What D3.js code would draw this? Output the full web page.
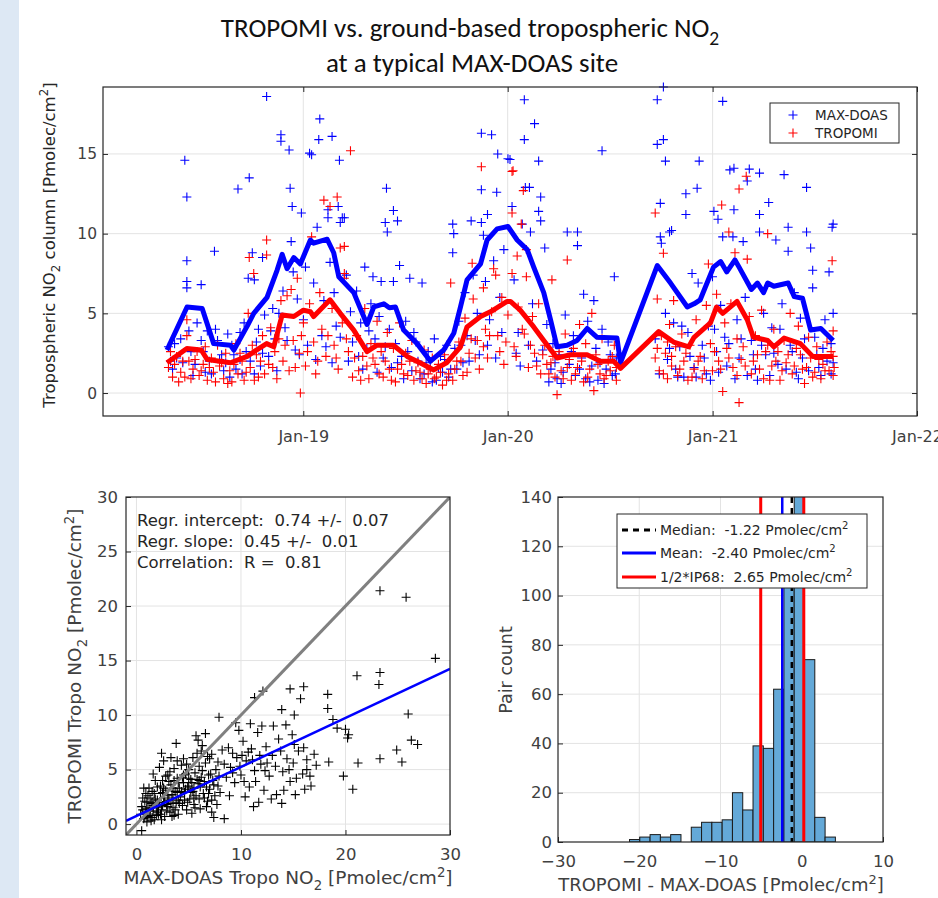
<!DOCTYPE html>
<html>
<head>
<meta charset="utf-8">
<script src="https://cdn.jsdelivr.net/npm/d3@7"></script>
<style>
  body { margin: 0; background: #fff; }
  svg { display: block; font-family: "DejaVu Sans", Verdana, sans-serif; }
</style>
</head>
<body>
<svg width="938" height="898"></svg>
<script>
// ---- time series (decimal year, Pmolec/cm2) ----
const maxdoasPoints = [
  [2018.34,2.9],[2018.36,1.5],[2018.38,2.2],[2018.40,3.4],[2018.42,14.6],[2018.43,12.3],[2018.43,8.3],[2018.43,7.0],[2018.43,6.6],[2018.45,2.6],[2018.47,1.8],[2018.50,6.8],[2018.50,3.3],[2018.52,1.3],[2018.54,2.0],[2018.565,8.9],[2018.57,4.0],[2018.59,2.1],[2018.61,1.4],[2018.63,3.7],[2018.64,1.0],[2018.66,2.4],[2018.68,12.8],[2018.69,3.8],[2018.70,1.2],[2018.72,2.6],[2018.735,13.5],[2018.73,7.2],[2018.75,8.8],[2018.76,7.1],[2018.77,3.2],[2018.79,1.7],[2018.80,8.5],[2018.81,4.9],[2018.82,18.6],[2018.83,2.3],[2018.85,5.3],[2018.86,3.4],
  [2018.89,16.2],[2018.89,15.8],[2018.90,6.4],[2018.91,4.1],[2018.93,15.25],[2018.935,12.85],[2018.94,9.5],[2018.945,11.7],[2018.95,7.6],[2018.96,2.7],[2018.97,5.9],[2018.99,11.3],[2019.00,4.6],[2019.01,7.9],[2019.03,15.05],[2019.04,14.95],[2019.05,6.9],[2019.067,10.4],[2019.075,15.9],[2019.08,17.2],[2019.09,3.6],[2019.10,5.8],[2019.12,11.5],[2019.12,11.0],[2019.13,8.2],[2019.14,16.1],[2019.15,6.3],[2019.16,4.2],[2019.17,11.7],[2019.176,14.6],[2019.18,10.7],[2019.19,11.0],[2019.20,11.0],[2019.21,7.4],[2019.23,5.1],[2019.24,3.2],
  [2019.26,6.4],[2019.28,4.4],[2019.30,7.9],[2019.31,2.8],[2019.33,5.6],[2019.34,7.3],[2019.35,3.4],[2019.37,4.8],[2019.38,7.0],[2019.39,2.2],[2019.40,10.7],[2019.406,12.85],[2019.41,10.1],[2019.42,4.0],[2019.43,1.6],[2019.44,11.45],[2019.44,7.0],[2019.45,3.1],[2019.46,10.8],[2019.47,8.0],[2019.48,2.3],[2019.50,4.5],[2019.52,7.2],[2019.53,1.4],[2019.55,3.2],[2019.56,2.0],[2019.58,6.9],[2019.59,1.2],[2019.61,2.6],[2019.62,1.6],[2019.64,3.4],[2019.65,0.8],[2019.67,2.3],[2019.68,1.3],[2019.70,3.0],[2019.71,1.0],
  [2019.73,10.6],[2019.735,10.0],[2019.73,8.8],[2019.74,2.8],[2019.76,4.5],[2019.78,1.9],[2019.79,6.3],[2019.80,3.6],[2019.82,10.8],[2019.83,7.4],[2019.85,5.0],[2019.87,16.3],[2019.87,12.75],[2019.87,10.7],[2019.88,9.9],[2019.89,7.0],[2019.90,11.2],[2019.91,4.6],[2019.92,16.2],[2019.93,8.3],[2019.945,12.6],[2019.95,15.0],[2019.96,6.0],[2019.98,9.0],[2020.00,14.7],[2020.01,14.65],[2020.02,11.7],[2020.03,7.1],[2020.05,3.8],[2020.07,10.6],[2020.08,18.4],[2020.08,15.9],[2020.085,12.9],[2020.105,12.9],[2020.11,10.1],[2020.12,5.6],[2020.13,16.9],[2020.15,14.55],[2020.15,11.4],[2020.16,12.3],[2020.16,10.8],[2020.17,2.7],[2020.18,9.1],[2020.19,4.3],
  [2020.21,1.5],[2020.22,3.1],[2020.24,0.9],[2020.25,2.4],[2020.27,1.3],[2020.28,4.9],[2020.29,10.1],[2020.30,1.8],[2020.32,3.6],[2020.33,1.1],[2020.34,10.1],[2020.34,9.25],[2020.36,2.2],[2020.37,6.2],[2020.38,0.9],[2020.39,4.5],[2020.41,1.7],[2020.42,5.8],[2020.43,2.8],[2020.44,0.8],[2020.46,15.2],[2020.46,4.0],[2020.48,1.5],[2020.49,3.2],[2020.51,1.1],[2020.52,7.3],[2020.53,2.2],
  [2020.72,3.4],[2020.73,18.4],[2020.73,15.6],[2020.745,11.9],[2020.745,9.8],[2020.75,9.4],[2020.76,19.2],[2020.76,15.9],[2020.77,14.55],[2020.77,5.0],[2020.78,2.1],[2020.79,10.1],[2020.80,10.2],[2020.81,4.4],[2020.82,1.5],[2020.84,2.9],[2020.86,1.0],[2020.87,12.5],[2020.87,11.2],[2020.88,3.8],[2020.90,7.5],[2020.91,1.6],[2020.925,12.85],[2020.93,6.9],[2020.935,14.55],[2020.95,3.0],[2020.97,1.2],[2020.98,4.2],[2021.00,7.3],[2021.007,11.4],[2021.02,2.6],[2021.027,10.9],[2021.04,5.5],[2021.05,18.3],[2021.05,9.8],[2021.06,3.5],[2021.07,1.7],[2021.085,14.0],[2021.10,9.8],[2021.105,14.1],[2021.105,11.5],[2021.12,4.6],[2021.13,2.2],[2021.15,9.5],[2021.16,6.0],[2021.17,13.3],[2021.18,14.05],[2021.19,3.3],[2021.21,1.5],[2021.23,13.8],[2021.23,11.2],[2021.23,10.1],[2021.25,5.0],[2021.26,2.4],[2021.275,11.95],[2021.29,4.1],[2021.31,9.6],[2021.32,1.8],[2021.34,5.6],[2021.35,13.7],[2021.37,10.4],[2021.37,8.9],[2021.38,3.0],[2021.40,6.3],[2021.41,1.3],[2021.43,4.7],[2021.44,2.2],[2021.46,12.9],[2021.46,10.1],[2021.48,9.1],[2021.49,7.7],[2021.49,6.6],[2021.50,3.5],[2021.52,1.6],[2021.54,2.8],[2021.55,4.6],[2021.57,7.6],[2021.58,3.1],[2021.585,10.4],[2021.59,10.6],[2021.59,5.0],[2021.59,1.9],
  [2018.35,2.0],[2018.37,3.1],[2018.41,1.9],[2018.44,3.9],[2018.46,1.1],[2018.48,4.4],[2018.51,2.6],[2018.53,3.9],[2018.55,1.2],[2018.58,3.3],[2018.60,2.4],[2018.62,1.9],[2018.65,3.0],[2018.67,1.5],[2018.69,2.1],[2018.71,4.4],[2018.74,2.0],[2018.76,1.2],[2018.78,4.0],[2018.80,2.5],[2018.84,3.9],[2018.87,1.4],[2018.88,5.0],[2018.92,3.3],[2018.98,2.4],[2019.02,3.0],[2019.06,2.1],[2019.11,2.9],[2019.14,1.9],[2019.18,3.5],[2019.22,2.0],
  [2019.27,2.3],[2019.29,1.5],[2019.32,3.9],[2019.36,1.3],[2019.40,2.9],[2019.46,1.9],[2019.49,0.9],[2019.51,2.6],[2019.54,3.8],[2019.57,0.9],[2019.60,1.9],[2019.63,0.7],[2019.66,1.6],[2019.69,2.1],[2019.72,1.5],
  [2019.75,1.5],[2019.77,3.0],[2019.81,2.0],[2019.84,3.3],[2019.86,2.4],[2019.90,3.0],[2019.94,2.2],[2019.97,3.8],[2020.04,2.5],[2020.06,1.7],[2020.10,3.0],[2020.14,2.0],
  [2020.20,0.7],[2020.23,1.9],[2020.26,0.6],[2020.31,2.6],[2020.35,1.5],[2020.40,0.7],[2020.45,1.9],[2020.47,0.6],[2020.50,2.4],[2020.525,1.2],
  [2020.74,1.2],[2020.79,2.8],[2020.83,1.0],[2020.85,4.2],[2020.89,2.3],[2020.92,1.0],[2020.96,2.2],[2020.99,0.8],[2021.01,4.0],[2021.03,1.3],[2021.08,3.1],[2021.11,0.9],[2021.14,3.4],[2021.17,1.1],[2021.20,2.4],[2021.22,0.8],[2021.24,3.0],[2021.28,1.1],[2021.30,2.5],[2021.33,4.0],[2021.36,1.5],[2021.39,2.6],[2021.42,0.9],[2021.45,3.4],[2021.47,1.4],[2021.51,2.4],[2021.53,1.1],[2021.56,2.0],[2021.58,1.2]
];

const tropomiPoints = [
  [2018.34,1.6],[2018.36,1.0],[2018.38,2.3],[2018.40,1.3],[2018.43,4.6],[2018.43,3.6],[2018.44,2.0],[2018.45,0.9],[2018.46,1.5],[2018.48,2.6],[2018.49,1.1],[2018.51,1.8],[2018.53,0.8],[2018.55,2.2],[2018.56,1.3],[2018.58,3.0],[2018.59,1.7],[2018.61,0.9],[2018.62,2.5],[2018.64,1.4],[2018.65,0.7],[2018.67,3.1],[2018.68,1.2],[2018.70,2.0],[2018.71,0.8],[2018.73,5.0],[2018.735,8.5],[2018.74,1.6],[2018.757,7.5],[2018.77,2.4],[2018.78,1.0],[2018.80,3.6],[2018.82,9.6],[2018.82,8.66],[2018.83,1.8],[2018.84,4.1],[2018.86,2.6],[2018.87,0.9],[2018.88,3.4],
  [2018.89,5.8],[2018.90,2.0],[2018.92,6.1],[2018.93,1.4],[2018.94,6.5],[2018.95,3.3],[2018.97,7.2],[2018.98,2.5],[2018.985,0.0],[2019.00,4.4],[2019.01,1.7],[2019.03,5.6],[2019.04,9.8],[2019.05,3.2],[2019.06,1.2],[2019.08,6.3],[2019.09,4.0],[2019.10,12.1],[2019.11,2.3],[2019.13,11.7],[2019.14,5.3],[2019.15,3.0],[2019.165,12.3],[2019.17,1.5],[2019.18,9.1],[2019.19,4.4],[2019.20,9.2],[2019.20,7.5],[2019.20,7.2],[2019.22,2.6],[2019.23,15.2],[2019.24,1.0],
  [2019.26,3.6],[2019.27,1.4],[2019.29,2.3],[2019.30,5.3],[2019.32,0.9],[2019.33,3.1],[2019.35,1.8],[2019.36,4.5],[2019.38,2.6],[2019.39,1.0],[2019.41,3.8],[2019.42,1.5],[2019.44,2.8],[2019.45,0.7],[2019.47,4.4],[2019.48,1.8],[2019.50,2.5],[2019.51,1.1],[2019.53,3.3],[2019.54,0.8],[2019.56,1.9],[2019.57,1.3],[2019.59,2.7],[2019.60,0.6],[2019.62,1.5],[2019.63,2.2],[2019.65,1.0],[2019.66,1.8],[2019.68,0.5],[2019.69,2.4],[2019.71,1.2],[2019.72,6.9],[2019.73,0.8],
  [2019.75,2.0],[2019.76,3.2],[2019.78,1.1],[2019.79,4.7],[2019.81,2.5],[2019.825,8.14],[2019.83,5.9],[2019.85,3.3],[2019.86,1.5],[2019.87,14.2],[2019.88,6.6],[2019.89,4.0],[2019.90,2.2],[2019.92,5.1],[2019.93,7.8],[2019.94,7.4],[2019.95,3.6],[2019.97,6.0],[2019.98,1.8],[2020.00,4.9],[2020.02,13.9],[2020.025,13.95],[2020.02,11.3],[2020.02,7.5],[2020.03,2.9],[2020.045,8.6],[2020.05,5.4],[2020.065,10.6],[2020.075,12.7],[2020.08,3.7],[2020.09,9.0],[2020.09,7.3],[2020.10,1.6],[2020.12,4.8],[2020.13,2.5],[2020.15,5.6],[2020.16,1.2],[2020.18,3.0],[2020.19,1.8],
  [2020.215,7.1],[2020.22,2.3],[2020.23,1.0],[2020.24,-0.1],[2020.25,2.6],[2020.26,1.4],[2020.28,3.7],[2020.29,8.35],[2020.29,1.6],[2020.31,0.8],[2020.32,2.8],[2020.33,1.2],[2020.35,4.3],[2020.36,2.0],[2020.37,0.7],[2020.38,3.1],[2020.40,1.5],[2020.41,5.0],[2020.42,0.15],[2020.43,2.4],[2020.45,1.2],[2020.46,3.4],[2020.47,0.9],[2020.49,2.0],[2020.50,1.4],[2020.52,3.0],[2020.53,0.8],
  [2020.72,11.3],[2020.72,2.2],[2020.73,5.9],[2020.74,1.4],[2020.75,3.6],[2020.76,8.77],[2020.77,2.5],[2020.78,0.9],[2020.79,4.3],[2020.80,1.7],[2020.81,5.8],[2020.82,2.9],[2020.83,1.1],[2020.85,3.7],[2020.86,2.0],[2020.88,0.8],[2020.89,3.0],[2020.91,1.5],[2020.92,4.6],[2020.94,2.3],[2020.95,0.9],[2020.97,5.5],[2020.98,8.1],[2020.99,3.1],[2021.00,1.4],[2021.02,6.2],[2021.03,2.0],[2021.045,11.8],[2021.05,0.1],[2021.06,4.4],[2021.07,2.8],[2021.08,10.1],[2021.09,5.6],[2021.10,1.6],[2021.11,8.8],[2021.12,3.4],[2021.13,12.8],[2021.13,-0.6],[2021.14,2.1],[2021.165,13.6],[2021.17,8.4],[2021.18,4.8],[2021.19,1.2],[2021.21,3.6],[2021.22,2.4],[2021.24,5.2],[2021.25,0.9],[2021.27,10.0],[2021.27,3.0],[2021.29,1.7],[2021.30,4.0],[2021.32,2.6],[2021.33,0.8],[2021.35,3.3],[2021.36,1.9],[2021.38,5.0],[2021.39,1.2],[2021.41,2.8],[2021.42,4.2],[2021.44,1.5],[2021.45,0.6],[2021.47,3.5],[2021.48,2.2],[2021.50,1.3],[2021.51,2.9],[2021.53,0.9],[2021.54,1.8],[2021.56,3.2],[2021.57,1.4],[2021.585,8.3],[2021.59,2.3],[2021.59,1.1],[2021.59,3.9],
  [2018.35,2.6],[2018.37,1.8],[2018.39,0.7],[2018.41,2.0],[2018.42,1.0],[2018.47,2.1],[2018.50,1.4],[2018.52,2.9],[2018.54,1.6],[2018.57,0.7],[2018.60,1.9],[2018.63,0.6],[2018.66,1.8],[2018.69,2.5],[2018.72,1.3],[2018.75,3.0],[2018.76,0.8],[2018.79,2.0],[2018.81,1.2],[2018.85,1.6],[2018.91,3.0],[2018.96,1.6],[2018.99,3.6],[2019.02,2.6],[2019.07,2.0],[2019.12,3.6],[2019.16,2.2],[2019.21,3.4],
  [2019.25,2.2],[2019.28,0.8],[2019.31,1.7],[2019.34,2.2],[2019.37,1.2],[2019.40,2.0],[2019.43,0.8],[2019.46,1.5],[2019.49,1.2],[2019.52,2.0],[2019.55,1.4],[2019.58,0.9],[2019.61,1.2],[2019.64,0.9],[2019.67,1.3],[2019.70,0.8],[2019.74,1.5],
  [2019.77,2.0],[2019.80,1.3],[2019.82,3.4],[2019.84,2.2],[2019.88,2.9],[2019.91,3.6],[2019.96,2.6],[2019.99,3.2],[2020.04,2.3],[2020.07,4.0],[2020.11,3.0],[2020.14,1.7],[2020.17,2.4],
  [2020.20,1.2],[2020.21,1.9],[2020.27,0.9],[2020.30,2.1],[2020.34,1.6],[2020.39,1.0],[2020.44,1.8],[2020.48,1.1],[2020.51,2.3],[2020.53,1.6],
  [2020.73,2.8],[2020.76,1.2],[2020.78,3.2],[2020.80,2.3],[2020.84,1.5],[2020.87,2.5],[2020.90,1.0],[2020.93,2.0],[2020.96,1.4],[2021.01,2.6],[2021.04,1.5],[2021.08,2.2],[2021.12,1.1],[2021.15,2.9],[2021.16,1.7],[2021.20,2.0],[2021.23,1.5],[2021.26,2.6],[2021.28,0.8],[2021.31,2.0],[2021.34,1.4],[2021.37,2.4],[2021.40,1.7],[2021.43,2.4],[2021.46,1.6],[2021.49,1.0],[2021.52,2.1],[2021.55,1.4],[2021.58,2.6],[2021.595,1.6]
];

// running means
const maxdoasMean = [
  [2018.333,2.7],[2018.431,5.4],[2018.505,5.3],[2018.561,3.1],[2018.643,3.0],[2018.66,2.7],[2018.725,4.2],[2018.757,5.0],[2018.822,6.0],[2018.871,7.7],[2018.896,8.7],[2018.92,7.8],[2018.953,8.5],[2018.985,8.1],[2019.034,9.6],[2019.05,9.4],[2019.116,9.65],[2019.148,8.8],[2019.173,7.3],[2019.246,6.3],[2019.311,4.3],[2019.344,5.4],[2019.393,5.6],[2019.42,5.35],[2019.45,5.4],[2019.49,3.95],[2019.556,3.1],[2019.621,2.0],[2019.686,2.7],[2019.735,3.75],[2019.768,5.4],[2019.80,7.1],[2019.866,8.1],[2019.898,9.6],[2019.947,10.3],[2020.0,10.45],[2020.045,9.6],[2020.094,9.0],[2020.126,7.9],[2020.175,6.3],[2020.208,4.6],[2020.24,2.9],[2020.289,3.0],[2020.338,3.3],[2020.387,4.05],[2020.436,3.5],[2020.533,3.45],[2020.55,1.9],[2020.73,8.0],[2020.795,6.9],[2020.877,5.4],[2020.91,5.6],[2020.94,5.85],[2021.005,7.9],[2021.04,8.25],[2021.07,7.6],[2021.11,8.35],[2021.13,7.9],[2021.19,6.5],[2021.22,6.9],[2021.25,6.3],[2021.27,6.9],[2021.30,6.7],[2021.37,6.9],[2021.40,6.05],[2021.44,5.95],[2021.48,3.95],[2021.53,4.05],[2021.59,3.3]
];
const tropomiMean = [
  [2018.333,1.9],[2018.43,2.8],[2018.50,2.7],[2018.53,2.1],[2018.643,1.9],[2018.725,2.3],[2018.77,2.7],[2018.82,3.1],[2018.855,2.9],[2018.896,4.9],[2018.953,4.8],[2019.0,5.2],[2019.034,5.1],[2019.05,4.8],[2019.13,5.85],[2019.18,5.0],[2019.246,3.95],[2019.311,2.6],[2019.36,3.0],[2019.44,3.0],[2019.507,2.3],[2019.57,1.9],[2019.637,1.45],[2019.70,1.9],[2019.768,2.9],[2019.80,4.15],[2019.866,4.8],[2019.914,5.1],[2019.996,5.75],[2020.012,5.75],[2020.06,5.2],[2020.126,4.15],[2020.175,3.3],[2020.24,2.2],[2020.306,2.4],[2020.387,2.4],[2020.452,2.0],[2020.517,2.0],[2020.55,1.55],[2020.737,3.85],[2020.81,3.2],[2020.884,2.9],[2020.91,3.5],[2020.99,4.4],[2021.02,5.4],[2021.05,5.0],[2021.12,5.75],[2021.17,4.6],[2021.20,3.5],[2021.27,3.3],[2021.30,2.9],[2021.35,3.45],[2021.43,3.1],[2021.49,2.3],[2021.53,2.3],[2021.59,2.3]
];

const yearTicks = [2019, 2020, 2021, 2022];
const valueTicks = [0, 5, 10, 15];

// ---- scatter: MAX-DOAS (x) vs TROPOMI (y) ----
const pairs = [
  [23.3,21.4],[25.8,20.8],[28.6,15.2],[21.1,13.6],[23.3,13.9],[23.2,12.8],[26.0,10.1],[26.3,7.7],[26.9,7.3],[24.9,6.8],[25.4,5.7],[23.3,6.0],[21.2,5.6],[19.8,4.4],[20.7,3.2],[18.3,11.9],[18.3,10.6],[18.8,9.6],[19.2,8.8],[20.0,8.7],[20.3,8.2],[20.2,7.9],[18.4,5.7],[17.0,6.4],[16.3,5.0],[16.1,3.2],[15.2,2.7],[13.9,1.9],[11.2,1.6],[13.9,10.5],[14.7,12.4],[16.0,12.6],[15.1,10.0],[15.7,11.5],[11.3,11.6],[12.1,12.2],[7.9,9.8],[9.5,9.3],[10.9,9.2],[13.1,9.0],[14.3,9.1],[15.1,7.3],[3.8,7.4],[3.3,6.1],[2.4,6.5],[5.7,8.1],[6.6,8.3],[8.4,0.5],[0.5,-0.6],
  [8.2,6.8],[8.8,7.0],[9.0,5.2],[9.4,3.8],[9.6,6.1],[10.0,4.5],[10.2,7.6],[10.5,5.8],[10.8,3.4],[11.0,6.9],[11.3,4.9],[11.6,8.4],[11.9,5.5],[12.2,3.1],[12.4,7.1],[12.7,4.4],[13.0,6.3],[13.3,5.3],[13.6,7.8],[14.0,4.8],[14.4,6.0],[14.7,3.9],[15.0,5.6],[15.5,6.7],[15.9,4.6],[16.3,5.9],[16.7,3.5],[17.2,5.4],[9.8,8.6],[10.4,2.5],[12.0,9.0],[13.4,2.7],[8.6,4.3],[11.7,2.0],[7.2,6.4],[7.8,5.7],[14.9,8.2],
  [0.5,1.6],[0.7,0.5],[0.8,2.1],[0.9,1.1],[1.0,0.2],[1.1,2.6],[1.2,1.5],[1.3,0.8],[1.4,1.9],[1.5,3.0],[1.6,1.2],[1.7,0.4],[1.8,2.3],[1.9,1.6],[2.0,3.4],[2.1,0.9],[2.2,2.0],[2.3,2.8],[2.4,1.3],[2.5,4.0],[2.6,2.4],[2.7,0.7],[2.8,3.1],[2.9,1.8],[3.0,4.5],[3.1,2.2],[3.2,1.1],[3.3,3.6],[3.4,2.7],[3.5,1.5],[3.6,5.1],[3.7,3.0],[3.8,2.0],[3.9,4.2],[4.0,0.9],[4.1,3.3],[4.2,2.5],[4.3,5.4],[4.4,1.7],[4.5,3.8],[4.6,2.9],[4.7,4.6],[4.8,1.3],[4.9,3.4],[5.0,5.0],[5.1,2.3],[5.2,4.1],[5.4,3.0],[5.5,1.8],[5.6,4.7],[5.7,2.6],[5.9,3.7],[6.0,5.3],[6.1,1.4],[6.2,4.3],[6.4,2.8],[6.5,3.9],[6.6,5.6],[6.8,2.1],[6.9,4.5],[7.0,3.2],[7.2,1.1],[7.3,4.0],[7.5,2.6],[7.6,5.0],[7.8,3.5],[1.0,1.4],[1.5,2.0],[2.0,1.1],[2.5,2.9],[3.0,1.6],[3.5,3.3],[4.0,2.2],[4.5,4.5],[5.0,3.5],[5.5,2.4],[6.0,4.0],[1.2,3.3],[0.9,2.8],[1.8,4.0],[2.2,5.2],[3.2,4.8],[4.5,6.0],[5.8,6.5],[6.3,7.2],[2.8,4.4],[0.6,2.4],[1.4,0.3],[2.4,0.4],[3.6,0.8],[5.3,1.0],[6.7,1.6],[7.4,0.6],[5.9,7.7],[6.8,6.2],
  [0.4,0.9],[0.6,1.3],[0.8,0.6],[1.0,2.0],[1.1,0.7],[1.3,1.2],[1.3,2.4],[1.5,0.6],[1.6,1.7],[1.7,2.8],[1.9,0.8],[2.0,2.2],[2.1,1.5],[2.3,0.9],[2.3,3.5],[2.5,1.7],[2.6,3.3],[2.7,2.0],[2.9,1.2],[3.0,2.6],[3.1,3.9],[3.3,1.9],[3.4,0.7],[3.5,2.4],[3.6,4.0],[3.7,1.3],[3.9,2.9],[4.0,3.8],[4.1,1.9],[4.3,3.0],[4.4,4.3],[4.6,2.2],[4.7,3.2],[4.9,2.0],[5.0,4.2],[5.2,2.9],[5.3,3.8],[5.5,3.3],[5.6,1.5],[5.8,4.1],[6.0,2.3],[6.1,3.4],[6.3,4.9],[6.5,2.4],[6.7,3.4],[6.9,2.8],[7.1,4.6],[7.2,2.2],[7.4,3.6],[7.7,1.8],[7.9,4.4],[3.9,5.8],[4.8,5.5],[5.4,6.1],[2.6,5.8],[1.6,4.6],[7.0,6.0],[6.2,6.7],[0.7,3.3],[8.0,2.9],[8.4,5.5],[8.9,2.6],[9.2,6.5],[9.9,5.3],[10.3,3.9],[10.7,6.6],[11.4,3.9],[11.8,6.3],[12.5,5.6],[12.9,2.3],[13.8,6.7],[14.1,3.1],[14.6,5.0],[15.3,4.2],[16.0,7.0],[16.6,4.4],[9.2,4.7],[10.1,6.3],[11.1,5.9],[12.3,4.9]
];
const regrIntercept = 0.74, regrSlope = 0.45;
const regrLines = ["Regr. intercept:  0.74 +/-  0.07", "Regr. slope:  0.45 +/-  0.01", "Correlation:  R =  0.81"];

// ---- histogram of TROPOMI - MAX-DOAS ----
const binStart = -21.2, binWidth = 1.267;
const binCounts = [1, 2, 3, 2, 3, 0, 6, 8, 8, 9, 20, 13, 39, 38, 62, 125, 160, 74, 10, 2];
const diffMedian = -1.22, diffMean = -2.40, ip68Half = 2.65;

// ------------------------------------------------------------
const svg = d3.select("svg");
const axisCol = "#262626", gridCol = "#e3e3e3", labelCol = "#404040";
const toDate = y => new Date(Date.UTC(2018, 0, 1) + (y - 2018) * 365.25 * 86400000);

function rich(sel, parts, fs) {
  let shift = 0;
  parts.forEach(([s, k]) => {
    const target = k === "sub" ? 0.3 * fs : k === "sup" ? -0.4 * fs : 0;
    sel.append("tspan").attr("dy", target - shift)
      .attr("font-size", k ? fs * 0.72 : fs).text(s);
    shift = target;
  });
}

function frame(x0, y0, x1, y1) {
  svg.append("rect").attr("x", x0).attr("y", y0)
    .attr("width", x1 - x0).attr("height", y1 - y0)
    .attr("fill", "none").attr("stroke", axisCol).attr("stroke-width", 1.2);
}

function styleAxis(g, fs) {
  g.select(".domain").remove();
  g.selectAll(".tick line").attr("stroke", axisCol);
  g.selectAll(".tick text").attr("fill", labelCol).attr("font-size", fs)
    .attr("font-family", "DejaVu Sans, Verdana, sans-serif");
}

const plus = "M-4.5,0H4.5M0,-4.5V4.5";

// left strip
svg.append("rect").attr("width", 19).attr("height", 898).attr("fill", "#dde8f4");

// title
const title = svg.append("g").attr("font-family", "Carlito, Lato, sans-serif").attr("fill", "#111")
  .attr("text-anchor", "middle");
rich(title.append("text").attr("x", 470).attr("y", 37),
  [["TROPOMI vs. ground-based tropospheric NO"], ["2", "sub"]], 27);
title.append("text").attr("x", 472).attr("y", 72).attr("font-size", 27).text("at a typical MAX-DOAS site");

// ================= top panel =================
const tx = d3.scaleUtc().domain([toDate(2018.02), new Date(Date.UTC(2022, 0, 1))]).range([103, 917]);
const ty = d3.scaleLinear().domain([-1.44, 19.2]).range([416, 87]);
const yearDates = yearTicks.map(y => new Date(Date.UTC(y, 0, 1)));

const tp = svg.append("g");
tp.selectAll("line.vg").data(yearDates).join("line").attr("class", "vg")
  .attr("x1", d => tx(d)).attr("x2", d => tx(d)).attr("y1", 87).attr("y2", 416)
  .attr("stroke", gridCol);
tp.selectAll("line.hg").data(valueTicks).join("line").attr("class", "hg")
  .attr("x1", 103).attr("x2", 917).attr("y1", d => ty(d)).attr("y2", d => ty(d))
  .attr("stroke", gridCol);

tp.append("g").attr("transform", "translate(0,416)")
  .call(d3.axisBottom(tx).tickValues(yearDates).tickFormat(d3.utcFormat("%b-%y")).tickSize(-5).tickPadding(15))
  .call(g => styleAxis(g, 16));
tp.append("g").attr("transform", "translate(103,0)")
  .call(d3.axisLeft(ty).tickValues(valueTicks).tickSize(-5).tickPadding(6))
  .call(g => styleAxis(g, 15.5));
tp.append("g").attr("transform", "translate(917,0)")
  .call(d3.axisRight(ty).tickValues(valueTicks).tickSize(-5).tickFormat(""))
  .call(g => styleAxis(g, 15));
tp.append("g").attr("transform", "translate(0,87)")
  .call(d3.axisTop(tx).tickValues(yearDates).tickSize(-5).tickFormat(""))
  .call(g => styleAxis(g, 15));

tp.selectAll("path.mx").data(maxdoasPoints).join("path").attr("class", "mx")
  .attr("d", plus).attr("transform", d => `translate(${tx(toDate(d[0]))},${ty(d[1])})`)
  .attr("stroke", "#0000ff").attr("stroke-width", 1.1);
tp.selectAll("path.tr").data(tropomiPoints).join("path").attr("class", "tr")
  .attr("d", plus).attr("transform", d => `translate(${tx(toDate(d[0]))},${ty(d[1])})`)
  .attr("stroke", "#ff0000").attr("stroke-width", 1.1);

const tsLine = d3.line().x(d => tx(toDate(d[0]))).y(d => ty(d[1]));
tp.append("path").attr("d", tsLine(maxdoasMean)).attr("fill", "none")
  .attr("stroke", "#0000ff").attr("stroke-width", 5).attr("stroke-linejoin", "round");
tp.append("path").attr("d", tsLine(tropomiMean)).attr("fill", "none")
  .attr("stroke", "#ff0000").attr("stroke-width", 5).attr("stroke-linejoin", "round");
frame(103, 87, 917, 416);

// legend
const lg = svg.append("g");
lg.append("rect").attr("x", 770).attr("y", 103).attr("width", 129).attr("height", 40)
  .attr("fill", "#fff").attr("stroke", axisCol);
[["MAX-DOAS", "#0000ff", 115], ["TROPOMI", "#ff0000", 133]].forEach(([t, c, y]) => {
  lg.append("path").attr("d", plus).attr("transform", `translate(793,${y})`).attr("stroke", c).attr("stroke-width", 1.1);
  lg.append("text").attr("x", 815).attr("y", y + 5).attr("font-size", 13.5).attr("fill", axisCol).text(t);
});

rich(svg.append("text").attr("transform", "translate(55,245) rotate(-90)")
  .attr("text-anchor", "middle").attr("fill", axisCol),
  [["Tropospheric NO"], ["2", "sub"], [" column [Pmolec/cm"], ["2", "sup"], ["]"]], 16.5);

// ================= scatter panel =================
const sx = d3.scaleLinear().domain([-1, 30]).range([126, 450]);
const sy = d3.scaleLinear().domain([-1, 30]).range([835, 497]);
const sp = svg.append("g");
const clipS = svg.append("clipPath").attr("id", "clipS");
clipS.append("rect").attr("x", 126).attr("y", 497).attr("width", 324).attr("height", 338);

sp.selectAll("line.vg").data([0, 10, 20]).join("line").attr("class", "vg")
  .attr("x1", d => sx(d)).attr("x2", d => sx(d)).attr("y1", 497).attr("y2", 835).attr("stroke", gridCol);
sp.selectAll("line.hg").data([0, 5, 10, 15, 20, 25]).join("line").attr("class", "hg")
  .attr("x1", 126).attr("x2", 450).attr("y1", d => sy(d)).attr("y2", d => sy(d)).attr("stroke", gridCol);

sp.append("g").attr("transform", "translate(0,835)")
  .call(d3.axisBottom(sx).tickValues([0, 10, 20, 30]).tickSize(-5).tickPadding(13))
  .call(g => styleAxis(g, 16.5));
sp.append("g").attr("transform", "translate(126,0)")
  .call(d3.axisLeft(sy).tickValues([0, 5, 10, 15, 20, 25, 30]).tickSize(-5).tickPadding(8))
  .call(g => styleAxis(g, 16.5));

sp.selectAll("path.pt").data(pairs).join("path").attr("class", "pt")
  .attr("d", plus).attr("transform", d => `translate(${sx(d[0])},${sy(d[1])})`)
  .attr("stroke", "#000").attr("stroke-width", 1.1);

sp.append("line").attr("clip-path", "url(#clipS)")
  .attr("x1", sx(-1)).attr("y1", sy(-1)).attr("x2", sx(30)).attr("y2", sy(30))
  .attr("stroke", "#808080").attr("stroke-width", 3);
sp.append("line").attr("clip-path", "url(#clipS)")
  .attr("x1", sx(-1)).attr("y1", sy(regrIntercept - regrSlope)).attr("x2", sx(30)).attr("y2", sy(regrIntercept + 30 * regrSlope))
  .attr("stroke", "#0000ff").attr("stroke-width", 2.5);
frame(126, 497, 450, 835);

sp.selectAll("text.rg").data(regrLines).join("text").attr("class", "rg")
  .attr("x", 137).attr("y", (d, i) => 526 + i * 21).attr("font-size", 16.5)
  .attr("fill", axisCol).style("white-space", "pre").text(d => d);

rich(svg.append("text").attr("transform", "translate(81,666) rotate(-90)")
  .attr("text-anchor", "middle").attr("fill", labelCol),
  [["TROPOMI Tropo NO"], ["2", "sub"], [" [Pmolec/cm"], ["2", "sup"], ["]"]], 18.5);
rich(svg.append("text").attr("x", 288).attr("y", 884)
  .attr("text-anchor", "middle").attr("fill", labelCol),
  [["MAX-DOAS Tropo NO"], ["2", "sub"], [" [Pmolec/cm"], ["2", "sup"], ["]"]], 18.5);

// ================= histogram panel =================
const hx = d3.scaleLinear().domain([-30, 10]).range([558, 883]);
const hy = d3.scaleLinear().domain([0, 140]).range([842, 497]);
const hp = svg.append("g");
const clipH = svg.append("clipPath").attr("id", "clipH");
clipH.append("rect").attr("x", 558).attr("y", 497).attr("width", 325).attr("height", 345);

hp.selectAll("line.vg").data([-20, -10, 0]).join("line").attr("class", "vg")
  .attr("x1", d => hx(d)).attr("x2", d => hx(d)).attr("y1", 497).attr("y2", 842).attr("stroke", gridCol);
hp.selectAll("line.hg").data([20, 40, 60, 80, 100, 120]).join("line").attr("class", "hg")
  .attr("x1", 558).attr("x2", 883).attr("y1", d => hy(d)).attr("y2", d => hy(d)).attr("stroke", gridCol);

hp.append("g").attr("transform", "translate(0,842)")
  .call(d3.axisBottom(hx).tickValues([-30, -20, -10, 0, 10]).tickSize(-5).tickPadding(13))
  .call(g => styleAxis(g, 16.5));
hp.append("g").attr("transform", "translate(558,0)")
  .call(d3.axisLeft(hy).tickValues(d3.range(0, 141, 20)).tickSize(-5).tickPadding(6))
  .call(g => styleAxis(g, 16.5));

const bins = binCounts.map((c, i) => ({ x0: binStart + i * binWidth, x1: binStart + (i + 1) * binWidth, c }));
hp.append("g").attr("clip-path", "url(#clipH)")
  .selectAll("rect").data(bins.filter(b => b.c > 0)).join("rect")
  .attr("x", d => hx(d.x0)).attr("width", d => hx(d.x1) - hx(d.x0))
  .attr("y", d => hy(d.c)).attr("height", d => hy(0) - hy(d.c))
  .attr("fill", "#64a9d8").attr("stroke", "#1a1a1a").attr("stroke-width", 1);

const vlines = [
  { v: diffMean - ip68Half, c: "#ff0000", w: 3, dash: null },
  { v: diffMean + ip68Half, c: "#ff0000", w: 3, dash: null },
  { v: diffMean, c: "#0000ff", w: 2.5, dash: null },
  { v: diffMedian, c: "#000", w: 2.5, dash: "6,5" }
];
hp.selectAll("line.stat").data(vlines).join("line").attr("class", "stat")
  .attr("x1", d => hx(d.v)).attr("x2", d => hx(d.v)).attr("y1", 497).attr("y2", 842)
  .attr("stroke", d => d.c).attr("stroke-width", d => d.w).attr("stroke-dasharray", d => d.dash);
frame(558, 497, 883, 842);

const hl = svg.append("g");
hl.append("rect").attr("x", 617).attr("y", 514).attr("width", 250).attr("height", 74)
  .attr("fill", "#fff").attr("stroke", axisCol);
[
  { y: 530, c: "#000", dash: "6,5", t: "Median:  -1.22 Pmolec/cm" },
  { y: 553, c: "#0000ff", dash: null, t: "Mean:  -2.40 Pmolec/cm" },
  { y: 577, c: "#ff0000", dash: null, t: "1/2*IP68:  2.65 Pmolec/cm" }
].forEach(e => {
  hl.append("line").attr("x1", 622).attr("x2", 656).attr("y1", e.y).attr("y2", e.y)
    .attr("stroke", e.c).attr("stroke-width", 3).attr("stroke-dasharray", e.dash);
  const t = hl.append("text").attr("x", 660).attr("y", e.y + 5).attr("fill", axisCol)
    .style("white-space", "pre");
  rich(t, [[e.t], ["2", "sup"]], 14);
});

svg.append("text").attr("transform", "translate(512,670) rotate(-90)")
  .attr("text-anchor", "middle").attr("font-size", 17.5).attr("fill", labelCol).text("Pair count");
rich(svg.append("text").attr("x", 721).attr("y", 891)
  .attr("text-anchor", "middle").attr("fill", labelCol),
  [["TROPOMI - MAX-DOAS [Pmolec/cm"], ["2", "sup"], ["]"]], 18);
</script>
</body>
</html>
